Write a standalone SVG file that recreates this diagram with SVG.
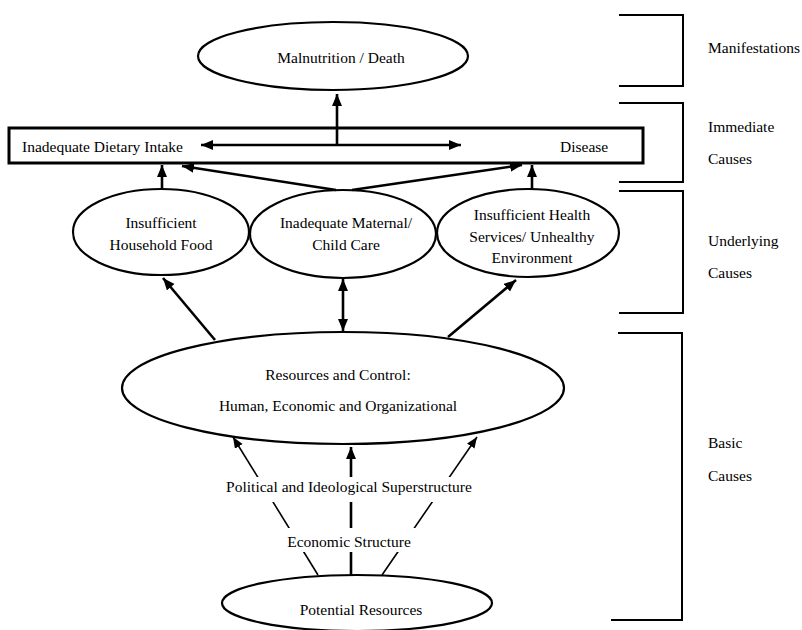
<svg xmlns="http://www.w3.org/2000/svg" width="802" height="630" viewBox="0 0 802 630">
<style>
text{font-family:"Liberation Serif","Times New Roman",serif;font-size:15.5px;fill:#000}
.c{text-anchor:middle}
.node{fill:#fff;stroke:#000;stroke-width:2.2}
.br{fill:none;stroke:#000;stroke-width:2}
.a{stroke:#000;stroke-width:2.6;fill:none}
.t{stroke:#000;stroke-width:1.6;fill:none}
.bg{fill:#fff;stroke:none}
</style>
<defs>
<marker id="ah" markerWidth="14" markerHeight="12" refX="12" refY="5" orient="auto-start-reverse" markerUnits="userSpaceOnUse"><path d="M0,0 L12,5 L0,10 z" fill="#000"/></marker>
<marker id="as" markerWidth="12" markerHeight="10" refX="11" refY="4.5" orient="auto-start-reverse" markerUnits="userSpaceOnUse"><path d="M0,0 L11,4.5 L0,9 z" fill="#000"/></marker>
</defs>
<g id="brackets">
<path class="br" d="M619,15 H683 V86 H619"/>
<path class="br" d="M619,103 H683 V182 H619"/>
<path class="br" d="M619,191 H683 V313 H619"/>
<path class="br" d="M618,333 H682 V620 H611"/>
<text x="708" y="53">Manifestations</text>
<text x="708" y="132">Immediate</text>
<text x="708" y="164">Causes</text>
<text x="708" y="246">Underlying</text>
<text x="708" y="278">Causes</text>
<text x="708" y="448">Basic</text>
<text x="708" y="481">Causes</text>
</g>
<g id="malnutrition">
<ellipse class="node" cx="333" cy="56" rx="135" ry="34"/>
<text class="c" x="341" y="63">Malnutrition / Death</text>
</g>
<g id="immediate">
<rect x="9" y="128" width="634" height="35" fill="#fff" stroke="#000" stroke-width="3"/>
<text x="22" y="152">Inadequate Dietary Intake</text>
<text x="560" y="152">Disease</text>
</g>
<g id="household">
<ellipse class="node" cx="161" cy="232" rx="88" ry="43"/>
<text class="c" x="161" y="228">Insufficient</text>
<text class="c" x="161" y="250">Household Food</text>
</g>
<g id="care">
<ellipse class="node" cx="343" cy="234" rx="93" ry="44"/>
<text class="c" x="346" y="228">Inadequate Maternal/</text>
<text class="c" x="346" y="250">Child Care</text>
</g>
<g id="health">
<ellipse class="node" cx="528" cy="233" rx="91" ry="44"/>
<text class="c" x="532" y="220">Insufficient Health</text>
<text class="c" x="532" y="242">Services/ Unhealthy</text>
<text class="c" x="532" y="263">Environment</text>
</g>
<g id="resources">
<ellipse class="node" cx="343" cy="388" rx="221" ry="56"/>
<text class="c" x="338" y="380">Resources and Control:</text>
<text class="c" x="338" y="411">Human, Economic and Organizational</text>
</g>
<g id="potential">
<ellipse class="node" cx="357" cy="603" rx="135" ry="28"/>
<text class="c" x="361" y="615">Potential Resources</text>
</g>
<g id="connectors">
<line class="a" x1="337" y1="145" x2="337" y2="94" marker-end="url(#ah)"/>
<line class="a" x1="201" y1="145" x2="461" y2="145" marker-start="url(#ah)" marker-end="url(#ah)"/>
<line class="a" x1="162" y1="190" x2="162" y2="165" marker-end="url(#ah)"/>
<line class="a" x1="532" y1="190" x2="532" y2="165" marker-end="url(#ah)"/>
<line class="a" x1="336" y1="190" x2="182" y2="166" marker-end="url(#ah)"/>
<line class="a" x1="352" y1="190" x2="522" y2="165" marker-end="url(#ah)"/>
<line class="a" x1="215" y1="340" x2="163" y2="278" marker-end="url(#ah)"/>
<line class="a" x1="448" y1="337" x2="516" y2="280" marker-end="url(#ah)"/>
<line class="a" x1="343" y1="279" x2="343" y2="331" marker-start="url(#ah)" marker-end="url(#ah)"/>
<line class="t" x1="318" y1="575" x2="233" y2="437" marker-end="url(#as)"/>
<line class="a" x1="351" y1="575" x2="351" y2="447" marker-end="url(#ah)"/>
<line class="t" x1="382" y1="575" x2="477" y2="437" marker-end="url(#as)"/>
</g>
<g id="labels">
<rect class="bg" x="222" y="477" width="254" height="25"/>
<text class="c" x="349" y="492">Political and Ideological Superstructure</text>
<rect class="bg" x="283" y="528" width="133" height="24"/>
<text class="c" x="349" y="547">Economic Structure</text>
</g>
</svg>
